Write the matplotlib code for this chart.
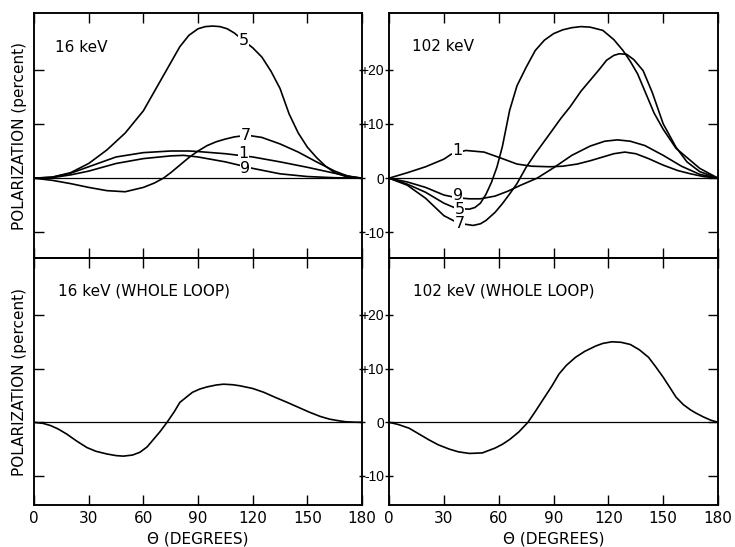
import matplotlib.pyplot as plt

theta_ticks = [0, 30, 60, 90, 120, 150, 180]
pol_ticks = [-10, 0, 10, 20]
pol_tick_labels = ['-10', '0', '+10', '+20']

# 16 keV, single field lines 1, 5, 7, 9
th16_5 = [0, 10, 20, 30, 40, 50, 60, 70, 80, 85, 90, 94, 98, 102, 106, 110, 115, 120, 125, 130, 135, 140, 145,
          150, 155, 160, 165, 172, 180]
pol16_5 = [0, 0.2, 1.0, 2.7, 5.2, 8.3, 12.4, 18.3, 24.2, 26.3, 27.5, 27.9, 28.0, 27.9, 27.5, 26.7, 25.3, 24.0,
           22.3, 19.7, 16.5, 11.8, 8.3, 5.7, 3.8, 2.2, 1.0, 0.2, 0]
th16_7 = [0, 10, 20, 30, 40, 50, 60, 66, 71, 75, 80, 85, 90, 95, 100, 105, 110, 117, 125, 135, 145, 155, 165,
          172, 180]
pol16_7 = [0, -0.4, -1.0, -1.7, -2.3, -2.5, -1.7, -0.9, 0, 1.0, 2.4, 3.8, 5.0, 6.0, 6.7, 7.2, 7.6, 7.9, 7.5, 6.3,
           4.8, 3.0, 1.3, 0.4, 0]
th16_1 = [0, 10, 20, 30, 45, 60, 75, 85, 90, 105, 120, 135, 150, 165, 175, 180]
pol16_1 = [0, 0.15, 0.9, 2.1, 3.9, 4.7, 5.0, 5.0, 4.9, 4.5, 3.9, 3.0, 2.0, 0.9, 0.2, 0]
th16_9 = [0, 10, 20, 30, 45, 60, 75, 82, 90, 105, 120, 135, 150, 165, 180]
pol16_9 = [0, 0.1, 0.6, 1.3, 2.7, 3.6, 4.1, 4.2, 3.9, 3.0, 1.8, 0.8, 0.3, 0.08, 0]

# 102 keV, single field lines 1, 5, 7, 9
th102_1 = [0, 10, 20, 30, 34, 42, 52, 62, 70, 78, 88, 95, 103, 110, 117, 123, 129, 135, 142, 150, 158, 165, 172,
           180]
pol102_1 = [0, 1.0, 2.1, 3.5, 4.4, 5.1, 4.8, 3.6, 2.6, 2.2, 2.1, 2.2, 2.6, 3.2, 3.9, 4.5, 4.8, 4.5, 3.6, 2.4, 1.4,
            0.8, 0.3, 0]
th102_9 = [0, 10, 20, 30, 37, 44, 50, 58, 65, 72, 81, 90, 100, 110, 118, 125, 132, 140, 150, 160, 170, 180]
pol102_9 = [0, -0.7, -1.7, -3.1, -3.6, -3.8, -3.8, -3.3, -2.4, -1.3, 0, 1.9, 4.2, 5.9, 6.8, 7.05, 6.8, 6.0, 4.2,
            2.2, 0.7, 0]
th102_5 = [0, 10, 20, 30, 37, 44, 47, 50, 53, 56, 59, 62, 66, 70, 75, 80, 85, 90, 95, 100, 105, 110, 117, 123,
           128, 132, 136, 140, 145, 150, 157, 163, 170, 180]
pol102_5 = [0, -1.1, -2.6, -4.6, -5.6, -5.7, -5.4, -4.6, -3.0, -0.8, 2.0, 5.8, 12.5, 17.0, 20.4, 23.5, 25.4, 26.6,
            27.3, 27.7, 27.9, 27.8, 27.2, 25.5, 23.5, 21.5, 19.2, 16.0, 12.0, 9.0, 5.5, 3.8, 1.8, 0]
th102_7 = [0, 10, 20, 30, 38, 46, 50, 53, 58, 62, 66, 70, 75, 80, 88, 94, 99, 105, 110, 115, 119, 123, 126, 130,
           134, 139, 144, 150, 157, 163, 170, 180]
pol102_7 = [0, -1.3, -3.7, -6.9, -8.3, -8.7, -8.4, -7.8, -6.3, -4.7, -2.9, -1.0, 2.0, 4.5, 8.2, 11.0, 13.1, 16.0,
            18.0, 20.0, 21.7, 22.6, 22.9, 22.8, 21.8, 19.8, 15.8, 10.0, 5.7, 3.0, 1.2, 0]

# whole loop
th16_loop = [0, 5, 9, 13, 18, 23, 29, 34, 40, 45, 49, 54, 58, 62, 65, 69, 73, 77, 80, 84, 87, 91, 95, 100, 104,
             109, 113, 120, 126, 132, 139, 145, 151, 157, 162, 167, 171, 176, 180]
pol16_loop = [0, -0.2, -0.6, -1.2, -2.2, -3.4, -4.7, -5.4, -5.9, -6.2, -6.3, -6.1, -5.6, -4.6, -3.4, -1.8, 0, 2.0,
              3.7, 4.8, 5.6, 6.2, 6.6, 6.95, 7.1, 7.0, 6.8, 6.3, 5.6, 4.7, 3.7, 2.8, 1.9, 1.1, 0.6, 0.3, 0.1, 0.02, 0]
th102_loop = [0, 5, 11, 16, 22, 27, 33, 38, 44, 51, 58, 62, 66, 71, 76, 80, 84, 89, 93, 97, 102, 107, 113, 117,
              122, 127, 132, 137, 142, 146, 150, 154, 157, 161, 165, 168, 172, 176, 180]
pol102_loop = [0, -0.4, -1.1, -2.1, -3.3, -4.2, -5.0, -5.5, -5.8, -5.7, -4.8, -4.1, -3.2, -1.8, 0, 2.0, 4.1, 6.7,
               9.0, 10.6, 12.1, 13.2, 14.2, 14.7, 15.0, 14.9, 14.5, 13.5, 12.1, 10.3, 8.4, 6.3, 4.7, 3.3, 2.3, 1.7,
               1.0, 0.4, 0]

LW = 1.2


def style_panel(ax, right_col, bottom_row, ylim):
    ax.set_xlim(0, 180)
    ax.set_ylim(*ylim)
    for sp in ax.spines.values():
        sp.set_linewidth(1.1)
    ax.set_xticks(theta_ticks)
    ax.tick_params(axis='x', direction='in', length=7, width=1, top=True, bottom=True,
                   labelbottom=bottom_row, labelsize=11, pad=4)
    ax.set_yticks(pol_ticks)
    twin = ax.twinx()
    twin.set_ylim(*ylim)
    twin.set_yticks(pol_ticks)
    if right_col:
        ax.set_yticklabels(pol_tick_labels, fontfamily='Liberation Sans', fontsize=10)
        ax.tick_params(axis='y', direction='inout', length=6, width=1, left=True, right=False, pad=0.5)
        twin.tick_params(axis='y', direction='in', length=7, width=1, labelright=False)
    else:
        ax.tick_params(axis='y', direction='in', length=7, width=1, left=True, right=False, labelleft=False)
        twin.tick_params(axis='y', direction='inout', length=5, width=1, labelright=False)
        ax.set_ylabel('POLARIZATION (percent)', fontsize=11)
        ax.yaxis.set_label_coords(-0.022, 0.5)
    for sp in twin.spines.values():
        sp.set_linewidth(1.1)
    if bottom_row:
        ax.set_xlabel('Θ (DEGREES)', fontsize=11, labelpad=4)
    ax.axhline(0, color='k', lw=0.9)
    return ax


def curve_label(ax, x, y, s):
    ax.text(x, y, s, fontsize=11.5, ha='center', va='center',
            bbox=dict(facecolor='white', edgecolor='none', pad=0.2), zorder=5)


fig = plt.figure(figsize=(7.35, 5.47), dpi=100)
ax_tl = fig.add_axes([0.0463, 0.5283, 0.4463, 0.4479])
ax_tr = fig.add_axes([0.5293, 0.5283, 0.4476, 0.4479])
ax_bl = fig.add_axes([0.0463, 0.0768, 0.4463, 0.4515])
ax_br = fig.add_axes([0.5293, 0.0768, 0.4476, 0.4515])

top_ylim = (-14.7, 30.4)
bot_ylim = (-15.4, 30.6)
style_panel(ax_tl, False, False, top_ylim)
style_panel(ax_tr, True, False, top_ylim)
style_panel(ax_bl, False, True, bot_ylim)
style_panel(ax_br, True, True, bot_ylim)

# top left: 16 keV
for th, pol in [(th16_5, pol16_5), (th16_7, pol16_7), (th16_1, pol16_1), (th16_9, pol16_9)]:
    ax_tl.plot(th, pol, color='k', lw=LW)
curve_label(ax_tl, 115, 25.4, '5')
curve_label(ax_tl, 116, 7.9, '7')
curve_label(ax_tl, 115, 4.6, '1')
curve_label(ax_tl, 116, 1.7, '9')
ax_tl.text(0.064, 0.861, '16 keV', transform=ax_tl.transAxes, fontsize=11, va='center')

# top right: 102 keV
for th, pol in [(th102_1, pol102_1), (th102_9, pol102_9), (th102_5, pol102_5), (th102_7, pol102_7)]:
    ax_tr.plot(th, pol, color='k', lw=LW)
curve_label(ax_tr, 37.5, 5.1, '1')
curve_label(ax_tr, 37.5, -3.2, '9')
curve_label(ax_tr, 38.5, -5.8, '5')
curve_label(ax_tr, 38.5, -8.4, '7')
ax_tr.text(0.069, 0.862, '102 keV', transform=ax_tr.transAxes, fontsize=11, va='center')

# whole loop
ax_bl.plot(th16_loop, pol16_loop, color='k', lw=LW)
ax_bl.text(0.074, 0.867, '16 keV (WHOLE LOOP)', transform=ax_bl.transAxes, fontsize=11, va='center')
ax_br.plot(th102_loop, pol102_loop, color='k', lw=LW)
ax_br.text(0.074, 0.867, '102 keV (WHOLE LOOP)', transform=ax_br.transAxes, fontsize=11, va='center')

fig.savefig('out.png', dpi=100)
